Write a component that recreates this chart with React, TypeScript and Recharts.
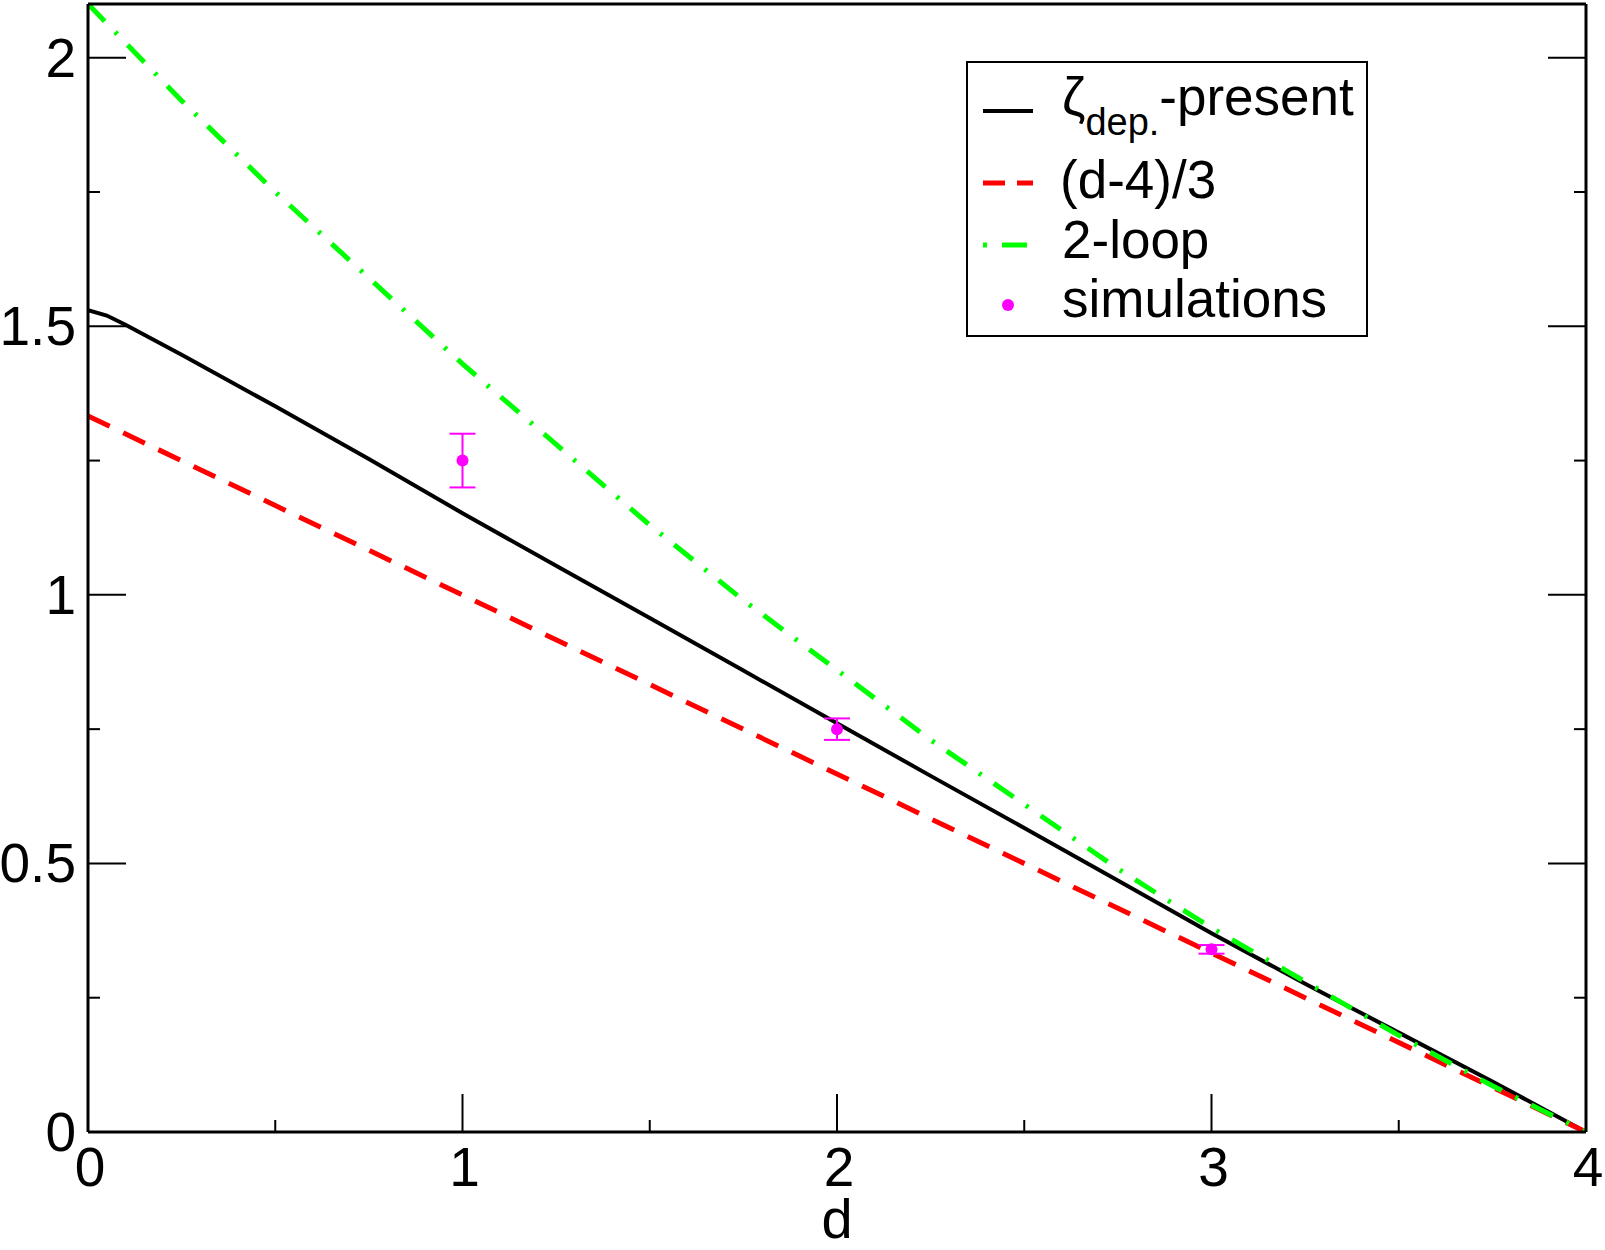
import React from "react";
import {
  ComposedChart,
  Line,
  Scatter,
  ErrorBar,
  XAxis,
  YAxis,
} from "recharts";

// zeta_dep. from the present calculation
const presentD = [0, 0.05, 0.1, 0.25, 0.5, 0.75, 1, 1.25, 1.5, 1.75, 2, 2.25, 2.5, 2.75, 3, 3.25, 3.5, 3.75, 4];
const presentZeta = [1.53, 1.52, 1.503, 1.447, 1.351, 1.253, 1.152, 1.054, 0.957, 0.859, 0.761, 0.663, 0.566, 0.468, 0.37, 0.276, 0.185, 0.094, 0];

// (d-4)/3 line
const linearD = [0, 4];
const linearZeta = [1.333, 0];

// 2-loop result
const loopD = [0, 0.25, 0.5, 0.75, 1, 1.25, 1.5, 1.75, 2, 2.25, 2.5, 2.75, 3, 3.25, 3.5, 3.75, 4];
const loopZeta = [2.1, 1.92, 1.75, 1.59, 1.43, 1.28, 1.13, 0.99, 0.86, 0.73, 0.61, 0.49, 0.38, 0.28, 0.18, 0.086, 0];

// simulations with error bars
const simD = [1, 2, 3];
const simZeta = [1.25, 0.75, 0.34];
const simErr = [0.05, 0.02, 0.008];

const xTicks = [0, 0.5, 1, 1.5, 2, 2.5, 3, 3.5, 4];
const yTicks = [0, 0.25, 0.5, 0.75, 1, 1.25, 1.5, 1.75, 2];

const presentData = presentD.map((d, i) => ({ d, v: presentZeta[i] }));
const linearData = linearD.map((d, i) => ({ d, v: linearZeta[i] }));
const loopData = loopD.map((d, i) => ({ d, v: loopZeta[i] }));
const simData = simD.map((d, i) => ({ d, v: simZeta[i], err: simErr[i] }));

const FONT = "'Liberation Sans', Arial, Helvetica, sans-serif";
const MAJOR = 38;
const MINOR = 12;

const fmt = (v: number) => String(v);

const BottomTick = (props: any) => {
  const { x, y, payload } = props;
  const major = payload.value % 1 === 0;
  return (
    <g>
      <line x1={x} y1={y} x2={x} y2={y - (major ? MAJOR : MINOR)} stroke="#000" strokeWidth={2} />
      {major && (
        <text x={x + 2} y={y + 54} textAnchor="middle" fontSize={55} fontFamily={FONT} fill="#000">
          {fmt(payload.value)}
        </text>
      )}
    </g>
  );
};

const TopTick = (props: any) => {
  const { x, y, payload } = props;
  const major = payload.value % 1 === 0;
  return <line x1={x} y1={y} x2={x} y2={y + (major ? MAJOR : MINOR)} stroke="#000" strokeWidth={2} />;
};

const LeftTick = (props: any) => {
  const { x, y, payload } = props;
  const major = payload.value % 0.5 === 0;
  return (
    <g>
      <line x1={x} y1={y} x2={x + (major ? MAJOR : MINOR)} y2={y} stroke="#000" strokeWidth={2} />
      {major && (
        <text x={x - 12} y={y + 19} textAnchor="end" fontSize={55} fontFamily={FONT} fill="#000">
          {fmt(payload.value)}
        </text>
      )}
    </g>
  );
};

const RightTick = (props: any) => {
  const { x, y, payload } = props;
  const major = payload.value % 0.5 === 0;
  return <line x1={x} y1={y} x2={x - (major ? MAJOR : MINOR)} y2={y} stroke="#000" strokeWidth={2} />;
};

const axisLine = { stroke: "#000", strokeWidth: 3 };

const Legend = () => (
  <svg
    width={1605}
    height={1250}
    style={{ position: "absolute", left: 0, top: 0, pointerEvents: "none" }}
  >
    <rect x={967} y={62} width={400} height={274} fill="#fff" stroke="#000" strokeWidth={2} />
    <line x1={983} y1={111} x2={1033} y2={111} stroke="#000" strokeWidth={4} />
    <text x={1062} y={115} fontSize={53} fontFamily={FONT} fill="#000">
      ζ<tspan fontSize={38} dy={20}>dep.</tspan>
      <tspan dy={-20}>-present</tspan>
    </text>
    <line x1={983} y1={183} x2={1005} y2={183} stroke="#ff0000" strokeWidth={5} />
    <line x1={1017} y1={183} x2={1033} y2={183} stroke="#ff0000" strokeWidth={5} />
    <text x={1060} y={198} fontSize={53} fontFamily={FONT} fill="#000">(d-4)/3</text>
    <line x1={983} y1={245} x2={987} y2={245} stroke="#00ff00" strokeWidth={5} />
    <line x1={1002} y1={245} x2={1027} y2={245} stroke="#00ff00" strokeWidth={5} />
    <text x={1062} y={258} fontSize={53} fontFamily={FONT} fill="#000">2-loop</text>
    <circle cx={1008} cy={305} r={6} fill="#ff00ff" />
    <text x={1062} y={317} fontSize={53} fontFamily={FONT} fill="#000">simulations</text>
  </svg>
);

export default function App() {
  return (
    <div style={{ position: "absolute", left: 0, top: 0, width: 1605, height: 1250, background: "#fff" }}>
      <ComposedChart width={1605} height={1250} margin={{ top: 0, right: 0, bottom: 0, left: 0 }}>
        <XAxis
          dataKey="d"
          type="number"
          domain={[0, 4]}
          ticks={xTicks}
          height={118}
          tickSize={0}
          tickMargin={0}
          tickLine={false}
          axisLine={axisLine}
          tick={<BottomTick />}
          interval={0}
          allowDataOverflow
          label={(p: any) => (
            <text
              x={p.viewBox.x + p.viewBox.width / 2}
              y={p.viewBox.y + 106}
              textAnchor="middle"
              fontSize={56}
              fontFamily={FONT}
              fill="#000"
            >
              d
            </text>
          )}
        />
        <XAxis
          xAxisId="top"
          orientation="top"
          type="number"
          domain={[0, 4]}
          ticks={xTicks}
          height={4}
          tickSize={0}
          tickMargin={0}
          tickLine={false}
          axisLine={axisLine}
          tick={<TopTick />}
          interval={0}
          allowDataOverflow
        />
        <YAxis
          type="number"
          domain={[0, 2.1]}
          ticks={yTicks}
          width={88}
          tickSize={0}
          tickMargin={0}
          tickLine={false}
          axisLine={axisLine}
          tick={<LeftTick />}
          interval={0}
          allowDataOverflow
        />
        <YAxis
          yAxisId="right"
          orientation="right"
          type="number"
          domain={[0, 2.1]}
          ticks={yTicks}
          width={19}
          tickSize={0}
          tickMargin={0}
          tickLine={false}
          axisLine={axisLine}
          tick={<RightTick />}
          interval={0}
          allowDataOverflow
        />
        <Line
          data={presentData}
          dataKey="v"
          type="linear"
          stroke="#000"
          strokeWidth={4}
          dot={false}
          isAnimationActive={false}
        />
        <Line
          data={linearData}
          dataKey="v"
          type="linear"
          stroke="#ff0000"
          strokeWidth={5}
          strokeDasharray="24 15"
          dot={false}
          isAnimationActive={false}
        />
        <Line
          data={loopData}
          dataKey="v"
          type="linear"
          stroke="#00ff00"
          strokeWidth={5}
          strokeDasharray="24 15 3 15"
          dot={false}
          isAnimationActive={false}
        />
        <Scatter
          data={simData}
          dataKey="v"
          fill="#ff00ff"
          isAnimationActive={false}
          shape={(p: any) => <circle cx={p.cx} cy={p.cy} r={6} fill="#ff00ff" />}
        >
          <ErrorBar dataKey="err" direction="y" width={13} stroke="#ff00ff" strokeWidth={2} />
        </Scatter>
      </ComposedChart>
      <Legend />
    </div>
  );
}
